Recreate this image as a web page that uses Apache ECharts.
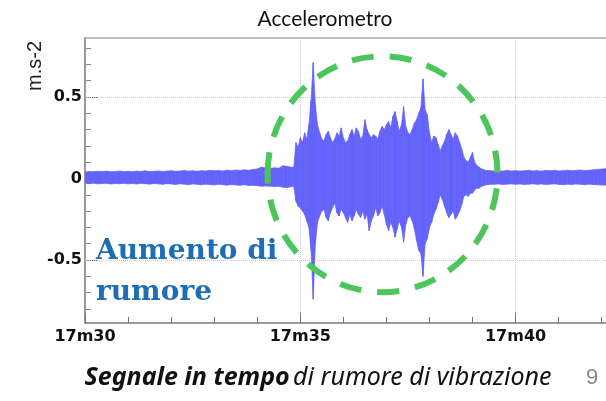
<!DOCTYPE html>
<html><head><meta charset="utf-8">
<script src="https://cdn.jsdelivr.net/npm/echarts@6/dist/echarts.min.js"></script>
<style>html,body{margin:0;padding:0;background:#fff}#c{width:606px;height:401px}</style>
</head><body><div id="c"></div>
<script>
// time in seconds after 17m00 (x axis), envelope of the accelerometer signal (m.s-2)
const times = [
30.0,30.1,30.2,30.3,30.4,30.5,30.6,30.7,30.8,30.9,
31.0,31.1,31.2,31.3,31.4,31.5,31.6,31.7,31.8,31.9,
32.0,32.1,32.2,32.3,32.4,32.5,32.6,32.7,32.8,32.9,
33.0,33.1,33.2,33.3,33.4,33.5,33.6,33.7,33.8,33.9,
34.0,34.1,34.2,34.3,34.4,34.5,34.6,34.7,34.8,
34.85,34.90,34.95,35.00,35.05,35.10,35.15,35.20,35.25,35.30,35.35,35.40,35.45,35.50,35.55,35.60,35.65,35.70,35.75,35.80,35.85,35.90,35.95,
36.00,36.05,36.10,36.15,36.20,36.25,36.30,36.35,36.40,36.45,36.50,36.55,36.60,36.65,36.70,36.75,36.80,36.85,36.90,36.95,
37.00,37.05,37.10,37.15,37.20,37.25,37.30,37.35,37.40,37.45,37.50,37.55,37.60,37.65,37.70,37.75,37.80,37.85,37.90,37.95,
38.00,38.05,38.10,38.15,38.20,38.25,38.30,38.35,38.40,38.45,38.50,38.55,38.60,38.65,38.70,38.75,38.80,38.85,38.90,38.95,
39.00,39.05,39.10,39.15,39.20,39.30,39.40,
39.5,39.6,39.7,39.8,39.9,40.0,40.1,40.2,40.3,40.4,40.5,40.6,40.7,40.8,40.9,
41.0,41.1,41.2,41.3,41.4,41.5,41.6,41.7,41.8,41.9,42.0,42.1,42.2
];
const maxVals = [
.040,.043,.041,.044,.042,.045,.041,.043,.046,.042,
.044,.041,.045,.043,.047,.042,.044,.046,.043,.045,
.048,.044,.046,.049,.045,.047,.044,.048,.046,.050,
.047,.049,.046,.051,.048,.052,.049,.053,.050,.055,
.058,.070,.064,.060,.066,.062,.078,.074,.068,
.07,.22,.19,.25,.22,.28,.24,.33,.48,.71,.45,.33,.28,.24,.23,.27,.29,.25,.22,.24,.28,.26,.31,
.25,.22,.23,.27,.30,.26,.31,.29,.24,.26,.36,.30,.27,.25,.27,.26,.24,.29,.32,.30,
.33,.35,.31,.38,.41,.35,.29,.33,.44,.32,.28,.27,.30,.34,.36,.40,.43,.61,.42,.39,
.28,.22,.26,.25,.21,.17,.20,.23,.27,.30,.27,.24,.28,.26,.22,.18,.13,.11,.10,.13,
.16,.10,.08,.07,.06,.05,.048,
.046,.048,.045,.049,.046,.048,.045,.047,.050,.046,.048,.045,.049,.047,.050,
.046,.048,.051,.047,.049,.052,.048,.050,.053,.055,.058,.060,.058
];
const minVals = [
-.030,-.032,-.029,-.033,-.031,-.030,-.034,-.031,-.032,-.030,
-.033,-.031,-.034,-.030,-.032,-.035,-.031,-.033,-.036,-.032,
-.034,-.037,-.033,-.035,-.038,-.034,-.036,-.039,-.035,-.037,
-.040,-.036,-.038,-.041,-.037,-.040,-.042,-.039,-.043,-.041,
-.044,-.048,-.046,-.047,-.050,-.048,-.054,-.056,-.050,
-.05,-.14,-.17,-.18,-.20,-.22,-.26,-.30,-.44,-.74,-.40,-.27,-.23,-.20,-.19,-.24,-.26,-.21,-.18,-.15,-.21,-.23,-.19,
-.21,-.24,-.27,-.22,-.26,-.23,-.19,-.22,-.24,-.20,-.25,-.22,-.32,-.26,-.23,-.18,-.23,-.21,-.17,-.22,
-.28,-.32,-.27,-.30,-.36,-.31,-.26,-.30,-.39,-.28,-.24,-.23,-.26,-.31,-.38,-.44,-.46,-.60,-.40,-.37,
-.30,-.27,-.22,-.19,-.15,-.10,-.13,-.17,-.21,-.24,-.22,-.20,-.25,-.23,-.20,-.16,-.11,-.10,-.11,-.09,
-.09,-.07,-.06,-.06,-.05,-.04,-.036,
-.036,-.034,-.037,-.035,-.033,-.036,-.034,-.037,-.035,-.033,-.036,-.034,-.037,-.035,-.033,
-.036,-.038,-.035,-.037,-.034,-.036,-.038,-.035,-.037,-.039,-.040,-.041,-.040
];
const xTickPrefix = '17m';
const yLabelValues = [-0.5, 0, 0.5];
const yMinorValues = [-0.8,-0.7,-0.6,-0.5,-0.4,-0.3,-0.2,-0.1,0,0.1,0.2,0.3,0.4,0.5,0.6,0.7,0.8];
const yGridValues = [-0.5, 0.5];
const titleText = 'Accelerometro';
const yName = 'm.s-2';
const noteLines = ['Aumento di', 'rumore'];
const subBold = 'Segnale in tempo';
const subRest = 'di rumore di vibrazione';
const pageNum = '9';
// annotation ellipse, data coordinates: centre (s, m.s-2) and radii
const ellipseCenter = [36.91, 0.026];
const ellipseRadii = [2.67, 0.723];

const blue = '#6363fb';
const envData = times.map((t, i) => [t, maxVals[i], minVals[i]]);
const n = envData.length;

const chart = echarts.init(document.getElementById('c'), null, {renderer: 'canvas'});
const axisFont = {fontFamily: 'DejaVu Sans', fontWeight: 'bold', fontSize: 16, color: '#111'};
const yMin = -0.886, yMax = 0.861;

function renderEnv(params, api) {
  const i = params.dataIndex;
  if (i >= n - 1) return null;
  const a = envData[i], b = envData[i + 1];
  const pts = [
    api.coord([a[0], a[1]]), api.coord([b[0], b[1]]),
    api.coord([b[0], b[2]]), api.coord([a[0], a[2]])
  ];
  return {type: 'polygon', shape: {points: pts}, style: {fill: blue, stroke: blue, lineWidth: 0.7}, silent: true};
}

chart.setOption({
  animation: false,
  backgroundColor: '#fff',
  grid: {left: 85, top: 38, bottom: 78, right: 0, show: false},
  xAxis: [{
    type: 'value', min: 30, max: 42.1, interval: 5,
    axisLine: {show: true, onZero: false, lineStyle: {color: '#999', width: 2}},
    axisTick: {show: true, inside: true, length: 10, lineStyle: {color: '#777'}},
    minorTick: {show: true, splitNumber: 5, length: 6, lineStyle: {color: '#777'}},
    splitLine: {show: true, lineStyle: {type: 'dotted', color: '#c8c8c8', width: 1}},
    axisLabel: Object.assign({margin: 6, showMaxLabel: false, formatter: v => xTickPrefix + v}, axisFont)
  }, {
    type: 'value', min: 30, max: 42.1, position: 'top',
    axisLine: {show: true, onZero: false, lineStyle: {color: '#aaa', width: 1.5}},
    axisTick: {show: false}, axisLabel: {show: false}, splitLine: {show: false}
  }],
  yAxis: [{
    type: 'value', min: yMin, max: yMax, position: 'left',
    axisLine: {show: true, lineStyle: {color: '#999', width: 2}},
    axisTick: {show: true, inside: true, length: 12, customValues: yLabelValues, lineStyle: {color: '#555'}},
    axisLabel: Object.assign({margin: 3, customValues: yLabelValues, formatter: v => String(v)}, axisFont),
    splitLine: {show: false}
  }, {
    type: 'value', min: yMin, max: yMax, position: 'left',
    axisLine: {show: false},
    axisTick: {show: true, inside: true, length: 6, customValues: yMinorValues, lineStyle: {color: '#888'}},
    axisLabel: {show: false},
    splitLine: {show: false}
  }],
  series: [{
    type: 'custom', data: envData, renderItem: renderEnv, silent: true, z: 3,
    encode: {x: 0, y: [1, 2]}, clip: true,
    markLine: {
      silent: true, symbol: ['none', 'none'], z: 1, label: {show: false},
      lineStyle: {type: 'dotted', color: '#c8c8c8', width: 1},
      data: yGridValues.map(v => ({yAxis: v}))
    }
  }],
  graphic: [
    {type: 'text', x: 325, y: 19, style: {text: titleText, font: '21px Lato', fill: '#111', align: 'center', verticalAlign: 'middle'}},
    {type: 'text', x: 35, y: 66, rotation: Math.PI / 2, style: {text: yName, font: '20px "Liberation Sans"', fill: '#222', align: 'center', verticalAlign: 'middle'}},
    {type: 'text', x: 96, y: 252, z: 10, style: {text: noteLines[0], font: 'bold 28px "DejaVu Serif"', fill: '#1f6db3', align: 'left', verticalAlign: 'middle'}},
    {type: 'text', x: 96, y: 293, z: 10, style: {text: noteLines[1], font: 'bold 28px "DejaVu Serif"', fill: '#1f6db3', align: 'left', verticalAlign: 'middle'}},
    {type: 'text', x: 318, y: 378, style: {
      text: '{b|' + subBold + '} {n|' + subRest + '}',
      rich: {b: {font: 'italic bold 25px "Noto Sans"', fill: '#111'}, n: {font: 'italic 25px "Noto Sans"', fill: '#111'}},
      align: 'center', verticalAlign: 'middle'}},
    {type: 'text', x: 592, y: 378, style: {text: pageNum, font: '22px "Liberation Sans"', fill: '#888', align: 'center', verticalAlign: 'middle'}}
  ]
});

const c0 = chart.convertToPixel({gridIndex: 0}, ellipseCenter);
const c1 = chart.convertToPixel({gridIndex: 0}, [ellipseCenter[0] + ellipseRadii[0], ellipseCenter[1] + ellipseRadii[1]]);
chart.setOption({graphic: [{
  id: 'ring', type: 'ellipse', z: 20,
  shape: {cx: c0[0], cy: c0[1], rx: Math.abs(c1[0] - c0[0]), ry: Math.abs(c0[1] - c1[1])},
  style: {fill: 'none', stroke: '#4cc65a', lineWidth: 6, lineDash: [22, 16], lineDashOffset: 0}
}]});
</script>
</body></html>
